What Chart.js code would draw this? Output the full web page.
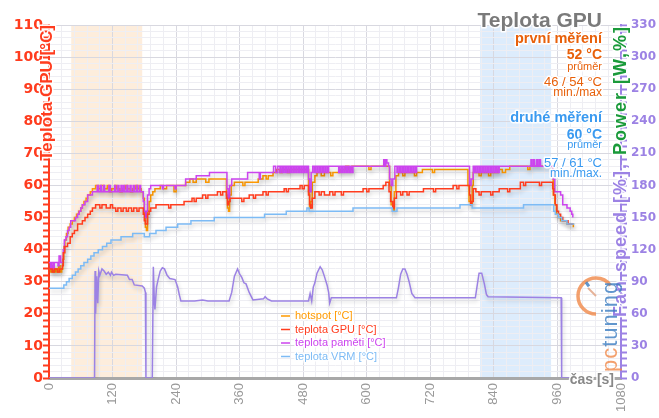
<!DOCTYPE html>
<html>
<head>
<meta charset="utf-8">
<script src="https://cdn.jsdelivr.net/npm/chart.js@4.4.1/dist/chart.umd.min.js"></script>
<style>
  body { margin: 0; background: #fff; }
  canvas { display: block; }
</style>
</head>
<body>
<canvas id="teplota" width="659" height="418"></canvas>
<script>
// [cas s, hodnota]
const hotspot = [[0,34],[3,33],[6,35],[9,33],[12,34],[15,33],[18,35],[21,33],[24,34],[26,37],[28,41],[30,43],[33,45],[36,47],[40,48],[44,49],[48,50],[52,51],[56,52],[60,53],[63,54],[66,55],[70,56],[73,57],[78,58],[82,59],[88,60],[94,59],[98,60],[104,59],[110,60],[114,58],[118,59],[124,60],[128,59],[134,58],[138,59],[144,60],[148,59],[154,58],[158,59],[164,60],[168,59],[174,58],[178,56],[180,51],[182,47],[184,46],[186,52],[189,55],[192,57],[196,58],[200,59],[210,60],[216,59],[222,60],[236,58],[240,60],[258,61],[266,62],[272,61],[278,62],[296,61],[302,62],[333,62],[335,57],[337,53],[339,52],[341,57],[344,60],[350,61],[362,61],[366,60],[370,61],[395,62],[404,63],[410,62],[414,63],[423,64],[430,65],[436,64],[440,65],[450,64],[454,65],[488,65],[490,58],[492,53],[494,55],[497,61],[502,63],[506,64],[514,63],[520,64],[532,63],[536,64],[549,65],[560,66],[566,65],[572,66],[600,66],[604,65],[608,66],[641,66],[643,60],[646,54],[649,52],[652,58],[655,63],[660,64],[668,63],[672,64],[690,63],[694,64],[705,65],[724,64],[728,65],[789,65],[791,60],[793,55],[796,54],[799,60],[801,64],[812,63],[816,64],[830,63],[834,64],[848,65],[856,64],[862,65],[870,66],[904,65],[908,66],[950,66],[952,57],[955,54],[958,51],[962,50],[966,49],[978,48],[990,47]];

const teplotaGPU = [[0,34],[6,33],[10,34],[16,33],[20,34],[25,35],[27,39],[30,41],[35,42],[40,44],[44,45],[48,46],[54,48],[63,49],[68,50],[73,51],[78,52],[82,53],[88,54],[96,53],[100,54],[108,53],[116,54],[120,53],[126,52],[130,53],[136,52],[140,53],[146,52],[150,53],[156,52],[160,53],[166,52],[170,53],[176,53],[178,51],[180,49],[182,48],[186,51],[189,52],[192,53],[202,54],[222,54],[226,53],[230,54],[255,55],[270,56],[274,55],[278,56],[290,57],[296,56],[300,57],[318,58],[324,57],[328,58],[333,58],[335,56],[337,54],[339,55],[342,56],[360,56],[364,55],[368,56],[378,57],[386,56],[390,57],[404,58],[410,57],[414,58],[444,59],[448,58],[452,59],[474,60],[478,59],[482,60],[488,60],[490,57],[492,54],[494,53],[497,56],[502,58],[510,57],[514,58],[520,57],[530,58],[536,57],[540,58],[552,57],[556,58],[593,59],[600,58],[604,59],[631,60],[636,61],[640,61],[642,58],[645,55],[649,53],[652,56],[656,58],[664,57],[668,58],[676,57],[680,58],[707,59],[726,58],[730,59],[763,60],[770,59],[774,60],[792,60],[794,57],[796,54],[798,55],[801,59],[806,58],[812,57],[816,58],[834,57],[838,58],[850,59],[866,58],[870,59],[890,61],[896,60],[900,61],[926,60],[930,61],[949,61],[951,59],[953,57],[956,54],[959,52],[962,51],[966,50],[970,49],[980,48],[990,48]];

const teplotaPameti = [[0,36],[3,34],[5,36],[8,34],[10,36],[17,35],[19,38],[22,36],[27,40],[29,43],[32,44],[35,46],[38,47],[41,49],[50,50],[54,51],[57,52],[60,53],[63,54],[68,55],[73,57],[82,58],[91,60],[93,58],[97,60],[99,58],[103,60],[105,58],[113,60],[116,58],[124,60],[126,58],[130,60],[132,58],[136,60],[138,58],[141,60],[143,58],[147,60],[149,58],[153,60],[155,58],[159,60],[161,58],[165,60],[167,58],[171,60],[173,58],[178,55],[180,52],[182,50],[184,52],[186,57],[189,59],[192,60],[212,60],[214,59],[216,60],[238,59],[240,60],[258,62],[278,63],[303,64],[335,64],[336,59],[338,56],[341,60],[345,62],[375,64],[397,62],[399,64],[424,66],[428,64],[432,66],[436,64],[438,66],[441,64],[443,66],[446,64],[448,66],[451,64],[453,66],[456,64],[458,66],[461,64],[463,66],[466,64],[468,66],[471,64],[473,66],[476,64],[478,66],[481,64],[483,66],[486,64],[488,66],[490,62],[492,58],[495,64],[498,66],[501,64],[503,66],[506,64],[508,66],[511,64],[513,66],[516,64],[518,66],[521,64],[523,66],[526,64],[528,66],[547,64],[549,66],[552,64],[554,66],[557,64],[559,66],[562,64],[564,66],[567,64],[569,66],[572,64],[574,66],[632,68],[634,66],[636,68],[638,67],[641,66],[643,62],[646,60],[649,62],[653,66],[657,64],[659,66],[662,64],[664,66],[667,64],[669,66],[672,64],[674,66],[677,64],[679,66],[682,64],[684,66],[687,64],[689,66],[692,64],[694,66],[792,66],[794,60],[797,62],[801,66],[803,64],[805,66],[808,64],[810,66],[813,64],[815,66],[818,64],[820,66],[823,64],[825,66],[828,64],[830,66],[833,64],[835,66],[838,64],[840,66],[843,64],[845,66],[848,64],[850,66],[910,68],[912,66],[915,68],[917,66],[921,68],[923,66],[926,68],[928,66],[950,66],[952,62],[955,58],[966,57],[970,54],[978,53],[984,52],[987,51],[989,50]];

const teplotaVRM = [[0,28],[28,29],[33,30],[38,31],[44,32],[50,33],[55,34],[60,35],[66,36],[73,37],[79,38],[85,39],[93,40],[101,41],[109,42],[117,43],[136,44],[158,45],[180,44],[190,45],[202,46],[221,47],[243,48],[268,49],[312,50],[407,51],[448,52],[487,53],[491,52],[574,53],[648,52],[657,53],[776,54],[799,53],[896,54],[950,54],[953,52],[956,51],[962,50],[968,49],[978,48],[992,48]];

// prava osa
const fanSpeed = [[0,0],[86,0],[87,100],[88,60],[90,95],[92,70],[94,100],[96,96],[100,102],[104,100],[108,97],[112,99],[116,96],[118,99],[122,96],[126,97],[148,96],[152,92],[157,92],[161,87],[176,86],[180,84],[182,80],[183,0],[195,0],[197,104],[199,70],[200,64],[203,85],[206,92],[210,100],[214,103],[218,102],[223,96],[228,93],[238,92],[243,85],[246,78],[249,72],[275,72],[290,73],[300,72],[340,72],[345,80],[350,95],[356,102],[360,97],[364,94],[368,89],[372,88],[378,80],[385,73],[405,74],[408,76],[412,74],[420,72],[490,72],[493,79],[496,72],[499,85],[502,89],[506,98],[512,104],[516,101],[520,95],[525,87],[528,80],[530,70],[533,75],[656,75],[660,85],[664,97],[668,102],[672,102],[676,97],[680,90],[685,79],[691,75],[805,75],[808,85],[812,98],[817,98],[822,88],[826,78],[829,76],[967,75],[968,0],[985,0]];

const mereni = [[42,176],[814,948]];

const xTicks = [0,120,240,360,480,600,720,840,960,1080];
const leftTicks = [0,10,20,30,40,50,60,70,80,90,100,110];
const rightTicks = [0,30,60,90,120,150,180,210,240,270,300,330];

const legendNames = ['hotspot [°C]', 'teplota GPU [°C]', 'teplota paměti [°C]', 'teplota VRM [°C]'];

var RED = '#FF3C1E', PURPLE = '#9C82E4', ORANGE = '#FF9A00', MAGENTA = '#CC44EE', BLUE = '#7DBBF5';
var SANS = "'Liberation Sans', Arial, sans-serif";

function make_dataset(points, color, axis, stepped) {
  return {
    data: points.map(function(p) { return {x: p[0], y: p[1]}; }),
    borderColor: color,
    borderWidth: 1.5,
    pointRadius: 0,
    stepped: stepped,
    tension: 0,
    fill: false,
    yAxisID: axis
  };
}

function glow_text(ctx, text, x, y, font, color, align) {
  ctx.font = font;
  ctx.textAlign = align || 'right';
  ctx.lineJoin = 'round';
  ctx.strokeStyle = 'rgba(255,255,255,0.95)';
  ctx.lineWidth = 3;
  ctx.strokeText(text, x, y);
  ctx.fillStyle = color;
  ctx.fillText(text, x, y);
}

function draw_logo(ctx) {
  ctx.save();
  ctx.globalAlpha = 0.8;
  ctx.strokeStyle = '#F08848';
  ctx.lineWidth = 3.5;
  ctx.beginPath();
  ctx.arc(596, 296, 18, 0.5 * Math.PI, 1.8 * Math.PI);
  ctx.stroke();
  ctx.strokeStyle = '#3A7CC0';
  ctx.lineWidth = 3;
  ctx.beginPath();
  ctx.moveTo(596 + 12 * Math.cos(1.3 * Math.PI), 296 + 12 * Math.sin(1.3 * Math.PI));
  ctx.lineTo(596 + 17 * Math.cos(1.3 * Math.PI), 296 + 17 * Math.sin(1.3 * Math.PI));
  ctx.stroke();
  ctx.strokeStyle = '#E0A080';
  ctx.lineWidth = 2;
  ctx.beginPath();
  ctx.moveTo(596, 296);
  ctx.lineTo(588, 288);
  ctx.stroke();
  ctx.translate(617, 372);
  ctx.rotate(-Math.PI / 2);
  ctx.font = '22px ' + SANS;
  ctx.letterSpacing = '1px';
  ctx.textAlign = 'left';
  ctx.textBaseline = 'alphabetic';
  ctx.fillStyle = '#F08848';
  ctx.fillText('pc', 0, 0);
  var w = ctx.measureText('pc').width;
  ctx.fillStyle = '#3A7CC0';
  ctx.fillText('tuning', w, 0);
  ctx.restore();
}

const bandsPlugin = {
  id: 'bands',
  beforeDraw: function(chart) {
    var ctx = chart.ctx, a = chart.chartArea, xs = chart.scales.x;
    var colors = ['#FDEDDC', '#DDECFC'];
    ctx.save();
    mereni.forEach(function(b, i) {
      var x0 = xs.getPixelForValue(b[0]), x1 = xs.getPixelForValue(b[1]);
      ctx.fillStyle = colors[i];
      ctx.fillRect(x0, a.top, x1 - x0, a.bottom - a.top);
    });
    ctx.restore();
  }
};

const shadowPlugin = {
  id: 'shadow',
  beforeDatasetDraw: function(chart) {
    var ctx = chart.ctx;
    ctx.save();
    ctx.shadowColor = 'rgba(0,0,0,0.2)';
    ctx.shadowBlur = 4;
    ctx.shadowOffsetX = 1;
    ctx.shadowOffsetY = 3;
  },
  afterDatasetDraw: function(chart) {
    chart.ctx.restore();
  }
};

const textPlugin = {
  id: 'texts',
  afterDraw: function(chart) {
    var ctx = chart.ctx;
    ctx.save();
    ctx.textBaseline = 'alphabetic';

    // nadpis a souhrn
    glow_text(ctx, 'Teplota GPU', 602, 27, 'bold 21px ' + SANS, '#7A7A7A');
    var c1 = '#E8600A', c2 = '#3A9AF0';
    glow_text(ctx, 'první měření', 602, 43, 'bold 14.5px ' + SANS, c1);
    glow_text(ctx, '52 °C', 602, 59, 'bold 14px ' + SANS, c1);
    glow_text(ctx, 'průměr', 602, 70, '11px ' + SANS, c1);
    glow_text(ctx, '46 / 54 °C', 602, 86, '13px ' + SANS, c1);
    glow_text(ctx, 'min./max', 602, 96, '12px ' + SANS, c1);
    glow_text(ctx, 'druhé měření', 602, 122, 'bold 14.5px ' + SANS, c2);
    glow_text(ctx, '60 °C', 602, 139, 'bold 14px ' + SANS, c2);
    glow_text(ctx, 'průměr', 602, 148, '11px ' + SANS, c2);
    glow_text(ctx, '57 / 61 °C', 602, 167, '13px ' + SANS, c2);
    glow_text(ctx, 'min./max.', 602, 177, '12px ' + SANS, c2);

    // legenda
    var lcol = [ORANGE, RED, MAGENTA, BLUE];
    legendNames.forEach(function(name, i) {
      var y = 316 + i * 13.5;
      ctx.strokeStyle = lcol[i];
      ctx.lineWidth = 1.5;
      ctx.beginPath();
      ctx.moveTo(281, y);
      ctx.lineTo(290, y);
      ctx.stroke();
      ctx.textBaseline = 'middle';
      glow_text(ctx, name, 295, y, '11px ' + SANS, lcol[i], 'left');
    });
    ctx.textBaseline = 'alphabetic';

    // nazvy os
    ctx.save();
    ctx.translate(47, 25);
    ctx.rotate(-Math.PI / 2);
    ctx.textBaseline = 'middle';
    glow_text(ctx, 'Teplota GPU [°C]', 0, 0, 'bold 17px ' + SANS, RED, 'right');
    ctx.restore();

    ctx.save();
    ctx.translate(621, 25);
    ctx.rotate(-Math.PI / 2);
    ctx.textBaseline = 'middle';
    ctx.letterSpacing = '2px';
    ctx.font = 'bold 18px ' + SANS;
    glow_text(ctx, 'Power [W,%]', 0, 0, 'bold 18px ' + SANS, '#1A9A3A', 'right');
    var pw = ctx.measureText('Power [W,%]').width;
    glow_text(ctx, 'Fan speed [%], ', -pw, 0, 'bold 18px ' + SANS, PURPLE, 'right');
    ctx.restore();

    draw_logo(ctx);

    glow_text(ctx, 'čas [s]', 614, 384, 'bold 14px ' + SANS, '#888888');
    ctx.restore();
  }
};

var ctx1 = document.getElementById('teplota').getContext('2d');
new Chart(ctx1, {
  type: 'line',
  data: {
    datasets: [
      make_dataset(teplotaVRM, BLUE, 'y', true),
      make_dataset(fanSpeed, PURPLE, 'y2', false),
      make_dataset(teplotaGPU, RED, 'y', true),
      make_dataset(teplotaPameti, MAGENTA, 'y', true),
      make_dataset(hotspot, ORANGE, 'y', true)
    ]
  },
  options: {
    responsive: false,
    animation: false,
    layout: { padding: { top: 25 } },
    plugins: {
      legend: { display: false },
      tooltip: { enabled: false }
    },
    scales: {
      x: {
        type: 'linear',
        min: 0,
        max: 1080,
        afterFit: function(s) { s.height = 40; },
        border: { color: '#A8A8A8', width: 3 },
        grid: {
          color: function(c) { return c.tick && c.tick.value % 120 === 0 ? '#D8D8E0' : '#EEEEF3'; },
          drawTicks: false
        },
        ticks: {
          stepSize: 24,
          autoSkip: false,
          minRotation: 90,
          maxRotation: 90,
          padding: 5,
          color: '#999999',
          font: { family: SANS, size: 13 },
          callback: function(v) { return xTicks.includes(v) ? String(v) : ''; }
        }
      },
      y: {
        position: 'left',
        min: 0,
        max: 110,
        afterFit: function(s) { s.width = 49; },
        border: { color: RED, width: 2 },
        grid: {
          color: function(c) { return c.tick && c.tick.value % 10 === 0 ? '#D8D8E0' : '#EEEEF3'; },
          tickColor: RED,
          tickLength: 6,
          tickWidth: 2
        },
        ticks: {
          stepSize: 2,
          autoSkip: false,
          padding: 0,
          color: RED,
          font: { family: 'DejaVu Sans', size: 14, weight: 'bold' },
          callback: function(v) { return leftTicks.includes(v) ? String(v) : ''; }
        }
      },
      y2: {
        position: 'right',
        min: 0,
        max: 330,
        afterFit: function(s) { s.width = 38; },
        border: { color: PURPLE, width: 2 },
        grid: {
          drawOnChartArea: false,
          tickColor: PURPLE,
          tickLength: 6,
          tickWidth: 2
        },
        ticks: {
          stepSize: 6,
          autoSkip: false,
          padding: 4,
          color: PURPLE,
          font: { family: 'DejaVu Sans', size: 12, weight: 'bold' },
          callback: function(v) { return rightTicks.includes(v) ? String(v) : ''; }
        }
      }
    }
  },
  plugins: [bandsPlugin, shadowPlugin, textPlugin]
});
</script>
</body>
</html>
